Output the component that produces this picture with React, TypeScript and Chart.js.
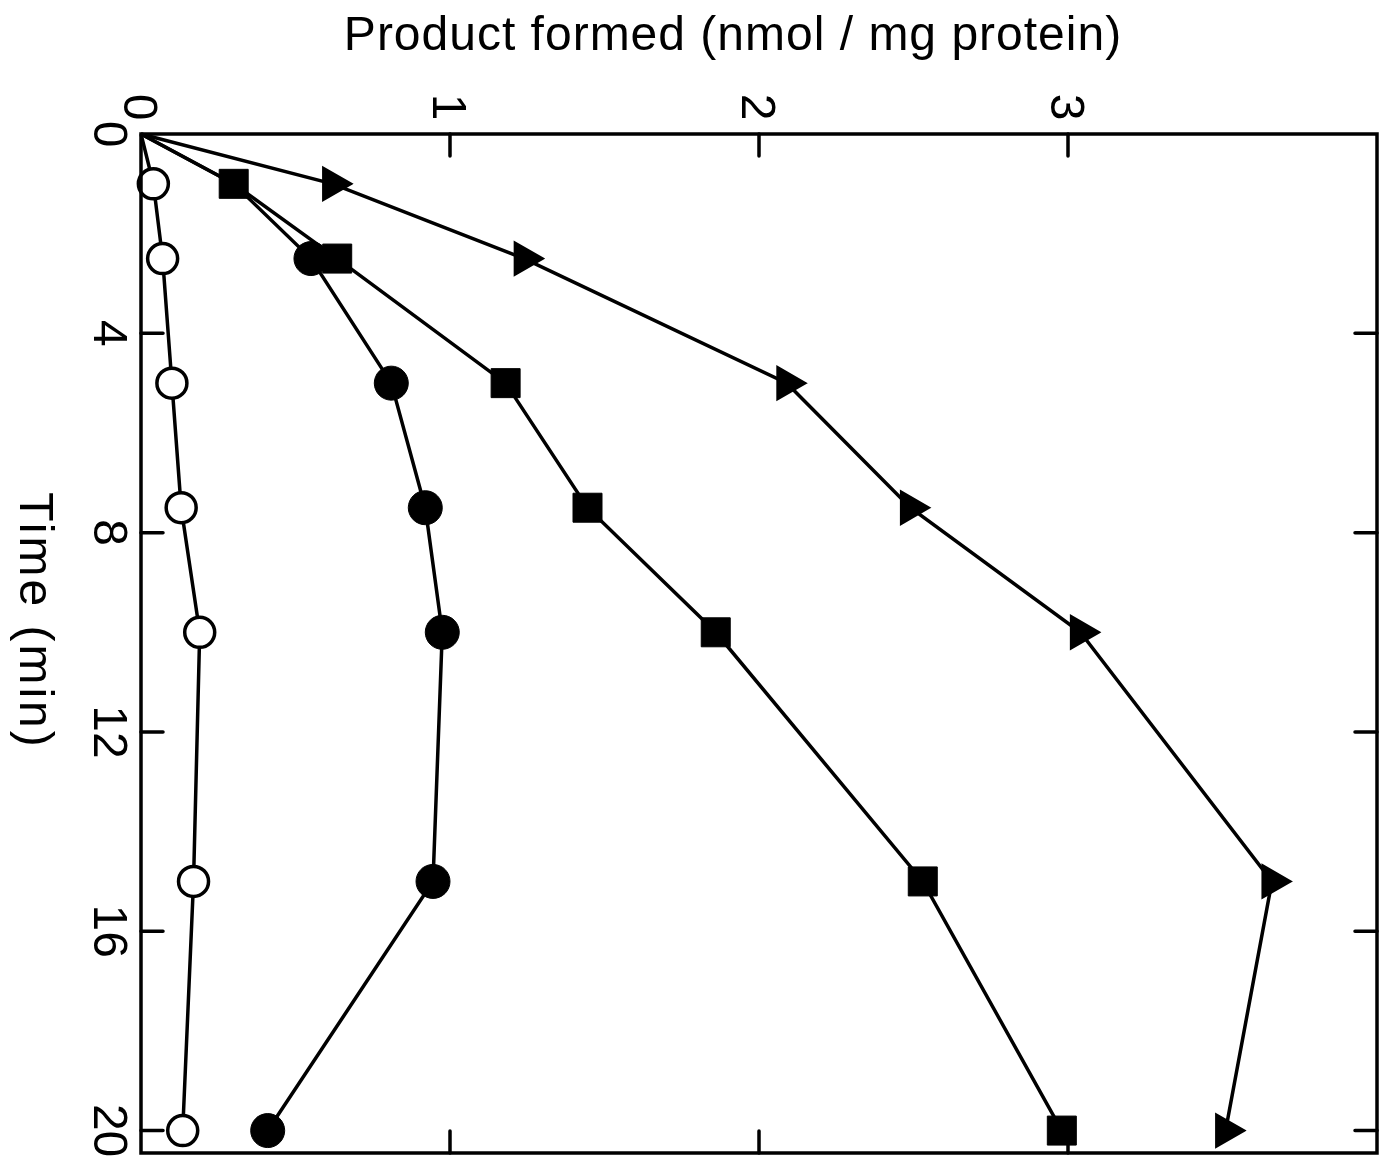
import React, { useEffect, useRef } from "react";
import { Chart, registerables } from "chart.js";

Chart.register(...registerables);

// Sampling times (min)
const timeMin = [0, 1, 2.5, 5, 7.5, 10, 15, 20];

// Product formed (nmol/mg protein) for each condition
const openCircleSeries = [0, 0.04, 0.07, 0.1, 0.13, 0.19, 0.17, 0.135];
const filledCircleSeries = [0, 0.3, 0.55, 0.81, 0.92, 0.975, 0.945, 0.41];
const squareSeries = [0, 0.3, 0.635, 1.18, 1.445, 1.86, 2.53, 2.98];
const triangleSeries = [0, 0.62, 1.24, 2.09, 2.49, 3.04, 3.66, 3.51];

// Axis ticks
const productTicks = [0, 1, 2, 3];
const timeTicks = [0, 4, 8, 12, 16, 20];

const productTitle = "Product formed (nmol / mg protein)";
const timeTitle = "Time (min)";

const INK = "#000000";
const FONT = '"Liberation Sans", Arial, Helvetica, sans-serif';
const TICK_LEN = 22;

const toPoints = (values: number[]) =>
  values.map((v, i) => ({ x: v, y: timeMin[i] }));

// No marker at the shared origin (and optionally at further hidden indices)
const radiusFrom = (r: number, hidden: number[] = []) => (c: any) =>
  c.dataIndex === 0 || hidden.includes(c.dataIndex) ? 0 : r;

// Draws a string turned a quarter turn clockwise, centred on (cx, cy)
function drawTurned(ctx: CanvasRenderingContext2D, text: string, cx: number, cy: number, capHalf: number) {
  ctx.save();
  ctx.translate(cx, cy);
  ctx.rotate(Math.PI / 2);
  ctx.textAlign = "center";
  ctx.textBaseline = "alphabetic";
  ctx.fillText(text, 0, capHalf);
  ctx.restore();
}

const framePlugin = {
  id: "frameAndLabels",
  afterDatasetsDraw(chart: any) {
    const { ctx, chartArea: a, scales } = chart;
    const xs = scales.x;
    const ys = scales.y;
    ctx.save();
    ctx.strokeStyle = INK;
    ctx.fillStyle = INK;

    // Box
    ctx.lineWidth = 3.5;
    ctx.lineJoin = "miter";
    ctx.strokeRect(a.left, a.top, a.right - a.left, a.bottom - a.top);

    // Inward tick marks on all four sides
    ctx.lineWidth = 3.5;
    ctx.lineCap = "round";
    ctx.beginPath();
    for (const v of productTicks) {
      if (v === 0) continue;
      const px = xs.getPixelForValue(v);
      ctx.moveTo(px, a.top);
      ctx.lineTo(px, a.top + TICK_LEN);
      ctx.moveTo(px, a.bottom);
      ctx.lineTo(px, a.bottom - TICK_LEN);
    }
    for (const t of timeTicks) {
      if (t === 0) continue;
      const py = ys.getPixelForValue(t);
      ctx.moveTo(a.left, py);
      ctx.lineTo(a.left + TICK_LEN, py);
      ctx.moveTo(a.right, py);
      ctx.lineTo(a.right - TICK_LEN, py);
    }
    ctx.stroke();

    // Tick labels
    ctx.font = `48px ${FONT}`;
    for (const v of productTicks) {
      drawTurned(ctx, String(v), xs.getPixelForValue(v), a.top - 27, 17);
    }
    for (const t of timeTicks) {
      drawTurned(ctx, String(t), a.left - 30, ys.getPixelForValue(t), 17);
    }

    // Axis titles
    ctx.font = `48px ${FONT}`;
    (ctx as any).letterSpacing = "1px";
    ctx.textAlign = "center";
    ctx.textBaseline = "alphabetic";
    ctx.fillText(productTitle, 733, 50);

    (ctx as any).letterSpacing = "3px";
    drawTurned(ctx, timeTitle, 37, 621, 17);
    ctx.restore();
  },
};

export default function App() {
  const canvasRef = useRef<HTMLCanvasElement | null>(null);

  useEffect(() => {
    const canvas = canvasRef.current;
    if (!canvas) return;

    const lineStyle = {
      showLine: true,
      borderColor: INK,
      borderWidth: 3.5,
      tension: 0,
      clip: false as const,
      pointBorderColor: INK,
    };

    const chart = new Chart(canvas, {
      type: "scatter",
      data: {
        datasets: [
          {
            ...lineStyle,
            label: "open circles",
            order: 0,
            data: toPoints(openCircleSeries),
            pointStyle: "circle",
            pointRadius: radiusFrom(15),
            pointBackgroundColor: "#ffffff",
            pointBorderWidth: 3.5,
          },
          {
            ...lineStyle,
            label: "filled circles",
            order: 3,
            data: toPoints(filledCircleSeries),
            pointStyle: "circle",
            // the 1-min point sits under the square marker
            pointRadius: radiusFrom(17, [1]),
            pointBackgroundColor: INK,
            pointBorderWidth: 1,
          },
          {
            ...lineStyle,
            label: "squares",
            order: 2,
            data: toPoints(squareSeries),
            pointStyle: "rect",
            pointRadius: radiusFrom(20.5),
            pointBackgroundColor: INK,
            pointBorderWidth: 1,
          },
          {
            ...lineStyle,
            label: "triangles",
            order: 1,
            data: toPoints(triangleSeries),
            pointStyle: "triangle",
            pointRotation: 90,
            pointRadius: radiusFrom(19),
            pointBackgroundColor: INK,
            pointBorderWidth: 2,
          },
        ],
      },
      options: {
        animation: false,
        responsive: false,
        events: [],
        layout: {
          autoPadding: false,
          padding: { left: 141, top: 134, right: 5, bottom: 10 },
        },
        plugins: {
          legend: { display: false },
          tooltip: { enabled: false },
          title: { display: false },
        },
        scales: {
          x: {
            type: "linear",
            position: "top",
            min: 0,
            max: 4,
            display: false,
          },
          y: {
            type: "linear",
            min: 0,
            max: 20.45,
            reverse: true,
            display: false,
          },
        },
      },
      plugins: [framePlugin],
    });

    return () => chart.destroy();
  }, []);

  return (
    <div
      style={{
        position: "fixed",
        left: 0,
        top: 0,
        width: 1382,
        height: 1163,
        background: "#ffffff",
      }}
    >
      <canvas ref={canvasRef} width={1382} height={1163} style={{ display: "block" }} />
    </div>
  );
}
